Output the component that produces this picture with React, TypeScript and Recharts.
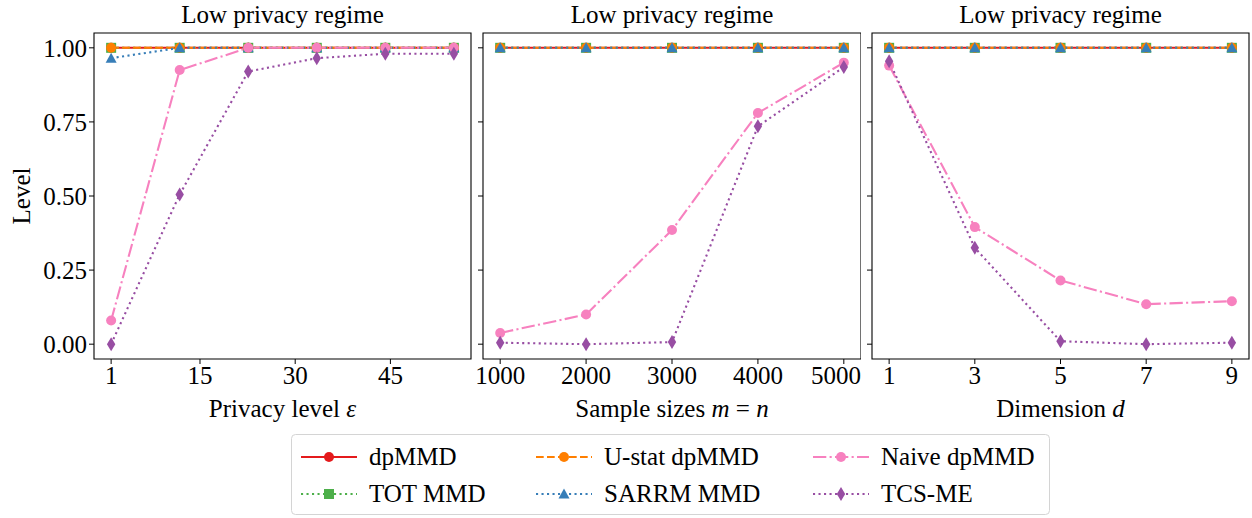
import { LineChart, Line, XAxis, YAxis, ReferenceArea } from 'recharts'

const FONT = '"Liberation Serif", "Times New Roman", serif'
const FS = 25

// panel 1: privacy level
const epsLevels = [1, 11.8, 22.6, 33.4, 44.2, 55]
const epsDpMMD = [1, 1, 1, 1, 1, 1]
const epsUstat = [1, 1, 1, 1, 1, 1]
const epsTot = [1, 1, 1, 1, 1, 1]
const epsSarrm = [0.965, 1, 1, 1, 1, 1]
const epsNaive = [0.08, 0.925, 1, 1, 1, 1]
const epsTcs = [0, 0.505, 0.92, 0.965, 0.98, 0.98]

// panel 2: sample sizes
const sampleSizes = [1000, 2000, 3000, 4000, 5000]
const nDpMMD = [1, 1, 1, 1, 1]
const nUstat = [1, 1, 1, 1, 1]
const nTot = [1, 1, 1, 1, 1]
const nSarrm = [1, 1, 1, 1, 1]
const nNaive = [0.038, 0.1, 0.385, 0.78, 0.95]
const nTcs = [0.005, 0, 0.007, 0.735, 0.935]

// panel 3: dimension
const dims = [1, 3, 5, 7, 9]
const dDpMMD = [1, 1, 1, 1, 1]
const dUstat = [1, 1, 1, 1, 1]
const dTot = [1, 1, 1, 1, 1]
const dSarrm = [1, 1, 1, 1, 1]
const dNaive = [0.94, 0.395, 0.215, 0.135, 0.145]
const dTcs = [0.955, 0.325, 0.01, 0, 0.005]

const yTicks = [0, 0.25, 0.5, 0.75, 1]
const epsTicks = [1, 15, 30, 45]
const nTicks = [1000, 2000, 3000, 4000, 5000]
const dTicks = [1, 3, 5, 7, 9]

const build = (xs: number[], dp: number[], us: number[], tot: number[], sa: number[], nv: number[], tcs: number[]) =>
  xs.map((x, i) => ({ x, dp: dp[i], us: us[i], tot: tot[i], sa: sa[i], nv: nv[i], tcs: tcs[i] }))

const SERIES = [
  { key: 'dp', name: 'dpMMD', color: '#e41a1c', dash: undefined, marker: 'circle' },
  { key: 'tot', name: 'TOT MMD', color: '#4daf4a', dash: '2.1 3.4', marker: 'square' },
  { key: 'us', name: 'U-stat dpMMD', color: '#ff7f00', dash: '7.7 3.3', marker: 'circle' },
  { key: 'sa', name: 'SARRM MMD', color: '#377eb8', dash: '2.1 3.4', marker: 'triangle' },
  { key: 'nv', name: 'Naive dpMMD', color: '#f781bf', dash: '13.3 3.3 2.1 3.3', marker: 'circle' },
  { key: 'tcs', name: 'TCS-ME', color: '#984ea3', dash: '2.1 3.4', marker: 'diamond' },
]

const LEGEND_ORDER = ['dp', 'us', 'nv', 'tot', 'sa', 'tcs']

function Marker({ cx, cy, kind, color }: any) {
  if (cx == null || cy == null) return null
  if (kind === 'square') return <rect x={cx - 5} y={cy - 5} width={10} height={10} fill={color} />
  if (kind === 'triangle')
    return <polygon points={`${cx},${cy - 5.5} ${cx - 5.5},${cy + 4.5} ${cx + 5.5},${cy + 4.5}`} fill={color} />
  if (kind === 'diamond')
    return <polygon points={`${cx},${cy - 7} ${cx + 4.2},${cy} ${cx},${cy + 7} ${cx - 4.2},${cy}`} fill={color} />
  return <circle cx={cx} cy={cy} r={5} fill={color} />
}

interface PanelProps {
  left: number
  yWidth: number
  plotWidth: number
  right: number
  data: any[]
  domain: [number, number]
  ticks: number[]
  showY: boolean
}

function Panel({ left, yWidth, plotWidth, right, data, domain, ticks, showY }: PanelProps) {
  return (
    <div style={{ position: 'absolute', left, top: 0 }}>
      <LineChart
        width={yWidth + plotWidth + right}
        height={420}
        data={data}
        margin={{ top: 33, right, bottom: 31, left: 0 }}
        style={{ fontFamily: FONT, overflow: 'visible' }}
      >
        <XAxis
          dataKey="x"
          type="number"
          domain={domain}
          ticks={ticks}
          axisLine={false}
          tickSize={5}
          tickMargin={2}
          height={30}
          tick={{ fontSize: FS, fill: '#000', fontFamily: FONT }}
          tickLine={{ stroke: '#000' }}
          allowDataOverflow
        />
        <YAxis
          type="number"
          domain={[-0.05, 1.05]}
          ticks={yTicks}
          width={yWidth}
          axisLine={false}
          tickSize={5}
          tickMargin={2}
          tick={{ fontSize: FS, fill: '#000', fontFamily: FONT }}
          tickLine={{ stroke: '#000' }}
          tickFormatter={(v: number) => (showY ? v.toFixed(2) : '')}
          allowDataOverflow
        />
        <ReferenceArea
          x1={domain[0]}
          x2={domain[1]}
          y1={-0.05}
          y2={1.05}
          fill="none"
          stroke="#000"
          strokeWidth={1.1}
          ifOverflow="visible"
        />
        {SERIES.map((s) => (
          <Line
            key={s.key}
            dataKey={s.key}
            type="linear"
            stroke={s.color}
            strokeWidth={2.1}
            strokeDasharray={s.dash}
            isAnimationActive={false}
            dot={(p: any) => <Marker key={`${s.key}-${p.index}`} cx={p.cx} cy={p.cy} kind={s.marker} color={s.color} />}
            activeDot={false}
          />
        ))}
      </LineChart>
    </div>
  )
}

function LegendBox() {
  const colX = [301, 536, 813]
  const rowY = [457, 494]
  return (
    <svg width={1252} height={518} style={{ position: 'absolute', left: 0, top: 0, pointerEvents: 'none' }}>
      <rect x={291.5} y={434.5} width={758} height={80} rx={4} fill="#fff" stroke="#d4d4d4" strokeWidth={1} />
      {LEGEND_ORDER.map((k, i) => {
        const s = SERIES.find((t) => t.key === k)!
        const x = colX[i % 3]
        const y = rowY[Math.floor(i / 3)]
        const w = 56
        return (
          <g key={k}>
            <line x1={x} y1={y} x2={x + w} y2={y} stroke={s.color} strokeWidth={2.1} strokeDasharray={s.dash} />
            <Marker cx={x + w / 2} cy={y} kind={s.marker} color={s.color} />
            <text x={x + 68} y={y + 8} fontSize={FS} fontFamily={FONT} fill="#000">
              {s.name}
            </text>
          </g>
        )
      })}
    </svg>
  )
}

function Labels() {
  const centers = [282.5, 672, 1060.5]
  return (
    <svg width={1252} height={518} style={{ position: 'absolute', left: 0, top: 0, pointerEvents: 'none' }}>
      {centers.map((c, i) => (
        <text key={i} x={c} y={23} textAnchor="middle" fontSize={FS} fontFamily={FONT} fill="#000">
          Low privacy regime
        </text>
      ))}
      <text x={centers[0]} y={417} textAnchor="middle" fontSize={FS} fontFamily={FONT} fill="#000">
        Privacy level <tspan fontStyle="italic">ε</tspan>
      </text>
      <text x={centers[1]} y={417} textAnchor="middle" fontSize={FS} fontFamily={FONT} fill="#000">
        Sample sizes <tspan fontStyle="italic">m</tspan> = <tspan fontStyle="italic">n</tspan>
      </text>
      <text x={centers[2]} y={417} textAnchor="middle" fontSize={FS} fontFamily={FONT} fill="#000">
        Dimension <tspan fontStyle="italic">d</tspan>
      </text>
      <text
        x={30}
        y={196}
        textAnchor="middle"
        fontSize={FS}
        fontFamily={FONT}
        fill="#000"
        transform="rotate(-90 30 196)"
      >
        Level
      </text>
    </svg>
  )
}

export default function App() {
  const epsData = build(epsLevels, epsDpMMD, epsUstat, epsTot, epsSarrm, epsNaive, epsTcs)
  const nData = build(sampleSizes, nDpMMD, nUstat, nTot, nSarrm, nNaive, nTcs)
  const dData = build(dims, dDpMMD, dUstat, dTot, dSarrm, dNaive, dTcs)
  return (
    <div style={{ position: 'absolute', left: 0, top: 0, width: 1252, height: 518, background: '#fff', fontFamily: FONT }}>
      <Panel left={0} yWidth={94} plotWidth={377} right={9} data={epsData} domain={[-1.7, 57.7]} ticks={epsTicks} showY />
      <Panel left={473} yWidth={10} plotWidth={378} right={0} data={nData} domain={[800, 5200]} ticks={nTicks} showY={false} />
      <Panel left={862} yWidth={10} plotWidth={377} right={3} data={dData} domain={[0.6, 9.4]} ticks={dTicks} showY={false} />
      <Labels />
      <LegendBox />
    </div>
  )
}
